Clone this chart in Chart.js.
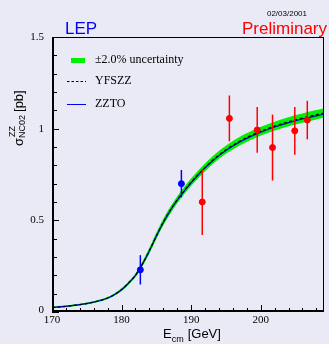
<!DOCTYPE html>
<html>
<head>
<meta charset="utf-8">
<script src="https://cdn.jsdelivr.net/npm/chart.js@4/dist/chart.umd.min.js"></script>
<style>
  html, body { margin: 0; padding: 0; background: #eaeaf6; }
  #wrap { width: 329px; height: 344px; position: relative; }
</style>
</head>
<body>
<div id="wrap"><canvas id="chart" width="329" height="344"></canvas></div>
<script>
// -------------------- Data --------------------
const curveE     = [170, 172, 174, 176, 178, 179, 180, 181, 182, 183, 184, 185, 186, 187, 188, 189, 190, 191, 192, 193, 194, 195, 196, 197, 198, 199, 200, 202, 204, 206, 208, 209.1];
const yfszzXsec  = [0.025, 0.031, 0.040, 0.054, 0.076, 0.095, 0.122, 0.158, 0.200, 0.262, 0.335, 0.415, 0.490, 0.555, 0.612, 0.662, 0.708, 0.750, 0.789, 0.825, 0.857, 0.885, 0.910, 0.932, 0.952, 0.970, 0.986, 1.014, 1.038, 1.058, 1.076, 1.085];
const zztoXsec   = [0.025, 0.031, 0.040, 0.054, 0.076, 0.095, 0.121, 0.157, 0.199, 0.261, 0.333, 0.413, 0.488, 0.553, 0.610, 0.659, 0.705, 0.747, 0.786, 0.821, 0.853, 0.881, 0.906, 0.928, 0.947, 0.965, 0.981, 1.009, 1.033, 1.053, 1.070, 1.079];
const uncertainty = 0.02;

// LEP measurements: published (blue) and preliminary (red)
const lepE       = [182.7, 188.6];
const lepXsec    = [0.23, 0.70];
const lepErr     = [0.08, 0.075];
const prelimE    = [191.6, 195.5, 199.5, 201.7, 204.9, 206.7];
const prelimXsec = [0.60, 1.056, 0.993, 0.897, 0.988, 1.047];
const prelimErr  = [0.18, 0.125, 0.125, 0.18, 0.13, 0.105];

const xTicks = [170, 180, 190, 200];
const yTicks = [0, 0.5, 1, 1.5];

// -------------------- Helpers --------------------
function pts(xs, ys) {
  return xs.map((x, i) => ({ x: x, y: ys[i] }));
}

const bandHi = pts(curveE, yfszzXsec.map(v => v * (1 + uncertainty)));
const bandLo = pts(curveE, yfszzXsec.map(v => v * (1 - uncertainty)));

const SERIF = "'Liberation Serif', 'DejaVu Serif', serif";
const SANS = "'Liberation Sans', Arial, sans-serif";
const GREEN = "#00f000";

// -------------------- Decorations plugin --------------------
const decorPlugin = {
  id: "decor",
  beforeDraw(chart) {
    const ctx = chart.ctx;
    ctx.save();
    ctx.fillStyle = "#eaeaf6";
    ctx.fillRect(0, 0, chart.width, chart.height);
    ctx.restore();
  },
  afterDatasetsDraw(chart) {
    const ctx = chart.ctx;
    const xs = chart.scales.x, ys = chart.scales.y;
    ctx.save();
    ctx.lineWidth = 1.5;
    function bars(es, vs, errs, col) {
      ctx.strokeStyle = col;
      es.forEach((e, i) => {
        const px = xs.getPixelForValue(e);
        ctx.beginPath();
        ctx.moveTo(px, ys.getPixelForValue(vs[i] + errs[i]));
        ctx.lineTo(px, ys.getPixelForValue(vs[i] - errs[i]));
        ctx.stroke();
      });
    }
    bars(lepE, lepXsec, lepErr, "#0000ff");
    bars(prelimE, prelimXsec, prelimErr, "#ff0000");
    ctx.restore();
  },
  afterDraw(chart) {
    const ctx = chart.ctx;
    const a = chart.chartArea;
    const xs = chart.scales.x, ys = chart.scales.y;
    ctx.save();

    // frame
    ctx.strokeStyle = "#000";
    ctx.lineWidth = 1;
    ctx.strokeRect(a.left + 0.5, a.top + 0.5, a.right - a.left - 1, a.bottom - a.top - 1);
    ctx.lineWidth = 2;
    ctx.beginPath();
    ctx.moveTo(a.left + 1, a.top);
    ctx.lineTo(a.left + 1, a.bottom - 1);
    ctx.lineTo(a.right, a.bottom - 1);
    ctx.stroke();

    // inward ticks
    ctx.lineWidth = 1;
    for (let v = 0; v <= 1.5001; v += 0.1) {
      const py = Math.round(ys.getPixelForValue(v)) + 0.5;
      const major = Math.abs(v * 2 - Math.round(v * 2)) < 1e-6;
      ctx.beginPath();
      ctx.moveTo(a.left, py);
      ctx.lineTo(a.left + (major ? 7 : 5), py);
      ctx.stroke();
    }
    for (let e = 170; e <= 209; e += 2) {
      const px = Math.round(xs.getPixelForValue(e)) + 0.5;
      const major = e % 10 === 0;
      ctx.beginPath();
      ctx.moveTo(px, a.bottom);
      ctx.lineTo(px, a.bottom - (major ? 7 : 4));
      ctx.stroke();
    }

    // tick labels
    ctx.fillStyle = "#000";
    ctx.font = "11px " + SERIF;
    ctx.textAlign = "right";
    ctx.textBaseline = "middle";
    yTicks.forEach(v => {
      ctx.fillText(String(v), a.left - 8, ys.getPixelForValue(v) - (v === 0 ? 2 : 0));
    });
    ctx.textAlign = "center";
    ctx.textBaseline = "top";
    xTicks.forEach(e => {
      ctx.fillText(String(e), xs.getPixelForValue(e), a.bottom + 3);
    });

    // x title
    ctx.textAlign = "left";
    ctx.textBaseline = "alphabetic";
    ctx.font = "13px " + SANS;
    let x0 = 163;
    ctx.fillText("E", x0, 338);
    x0 += ctx.measureText("E").width;
    ctx.font = "9px " + SANS;
    ctx.fillText("cm", x0, 342);
    x0 += ctx.measureText("cm").width + 1;
    ctx.font = "13px " + SANS;
    ctx.fillText("[GeV]", x0 + 3, 338);

    // y title (rotated)
    ctx.save();
    ctx.translate(23, 146);
    ctx.rotate(-Math.PI / 2);
    ctx.font = "13px " + SANS;
    ctx.fillText("\u03c3", 0, 0);
    let t = ctx.measureText("\u03c3").width;
    ctx.font = "9px " + SANS;
    ctx.fillText("ZZ", t + 1, -8);
    ctx.fillText("NC02", t, 2);
    t += ctx.measureText("NC02").width + 3;
    ctx.font = "13px " + SANS;
    ctx.fillText("[pb]", t, 0);
    ctx.restore();

    // legend
    ctx.fillStyle = GREEN;
    ctx.fillRect(71, 58, 14, 5);
    ctx.strokeStyle = "#000";
    ctx.lineWidth = 1;
    ctx.setLineDash([2.5, 2]);
    ctx.beginPath();
    ctx.moveTo(67, 81.5);
    ctx.lineTo(86, 81.5);
    ctx.stroke();
    ctx.setLineDash([]);
    ctx.strokeStyle = "#0000ff";
    ctx.beginPath();
    ctx.moveTo(67, 104.5);
    ctx.lineTo(86, 104.5);
    ctx.stroke();
    ctx.fillStyle = "#000";
    ctx.font = "12px " + SERIF;
    ctx.textBaseline = "middle";
    ctx.fillText("\u00b12.0% uncertainty", 95, 60);
    ctx.fillText("YFSZZ", 95, 81);
    ctx.fillText("ZZTO", 95, 104);

    // header texts
    ctx.textBaseline = "alphabetic";
    ctx.font = "17px " + SANS;
    ctx.fillStyle = "#0000ff";
    ctx.fillText("LEP", 65, 34);
    ctx.fillStyle = "#ff0000";
    ctx.textAlign = "right";
    ctx.fillText("Preliminary", 327, 34);
    ctx.fillStyle = "#000";
    ctx.font = "8px " + SANS;
    ctx.fillText("02/03/2001", 307, 16);
    ctx.restore();
  }
};

// -------------------- Chart --------------------
const smooth = { pointRadius: 0, cubicInterpolationMode: "monotone" };

new Chart(document.getElementById("chart"), {
  type: "line",
  data: {
    datasets: [
      { type: "scatter", data: pts(prelimE, prelimXsec), backgroundColor: "#ff0000", borderColor: "#ff0000", pointRadius: 3, order: 0 },
      { type: "scatter", data: pts(lepE, lepXsec), backgroundColor: "#0000ff", borderColor: "#0000ff", pointRadius: 3, order: 0 },
      { ...smooth, data: pts(curveE, yfszzXsec), borderColor: "#000", borderWidth: 1.2, borderDash: [3, 2.5], fill: false, order: 1 },
      { ...smooth, data: pts(curveE, zztoXsec), borderColor: "#0000cc", borderWidth: 1.2, fill: false, order: 2 },
      { ...smooth, data: bandHi, borderWidth: 1.5, borderColor: GREEN, backgroundColor: GREEN, fill: "+1", order: 3 },
      { ...smooth, data: bandLo, borderWidth: 1.5, borderColor: GREEN, backgroundColor: GREEN, fill: false, order: 4 }
    ]
  },
  options: {
    responsive: false,
    animation: false,
    events: [],
    layout: { padding: { left: 0, right: 1, top: 37, bottom: 0 } },
    plugins: { legend: { display: false }, tooltip: { enabled: false } },
    scales: {
      x: {
        type: "linear", min: 170, max: 209.1,
        grid: { display: false },
        border: { display: false },
        ticks: { display: false },
        afterFit(s) { s.height = 32; }
      },
      y: {
        type: "linear", min: 0, max: 1.5,
        grid: { display: false },
        border: { display: false },
        ticks: { display: false },
        afterFit(s) { s.width = 52; }
      }
    }
  },
  plugins: [decorPlugin]
});
</script>
</body>
</html>
